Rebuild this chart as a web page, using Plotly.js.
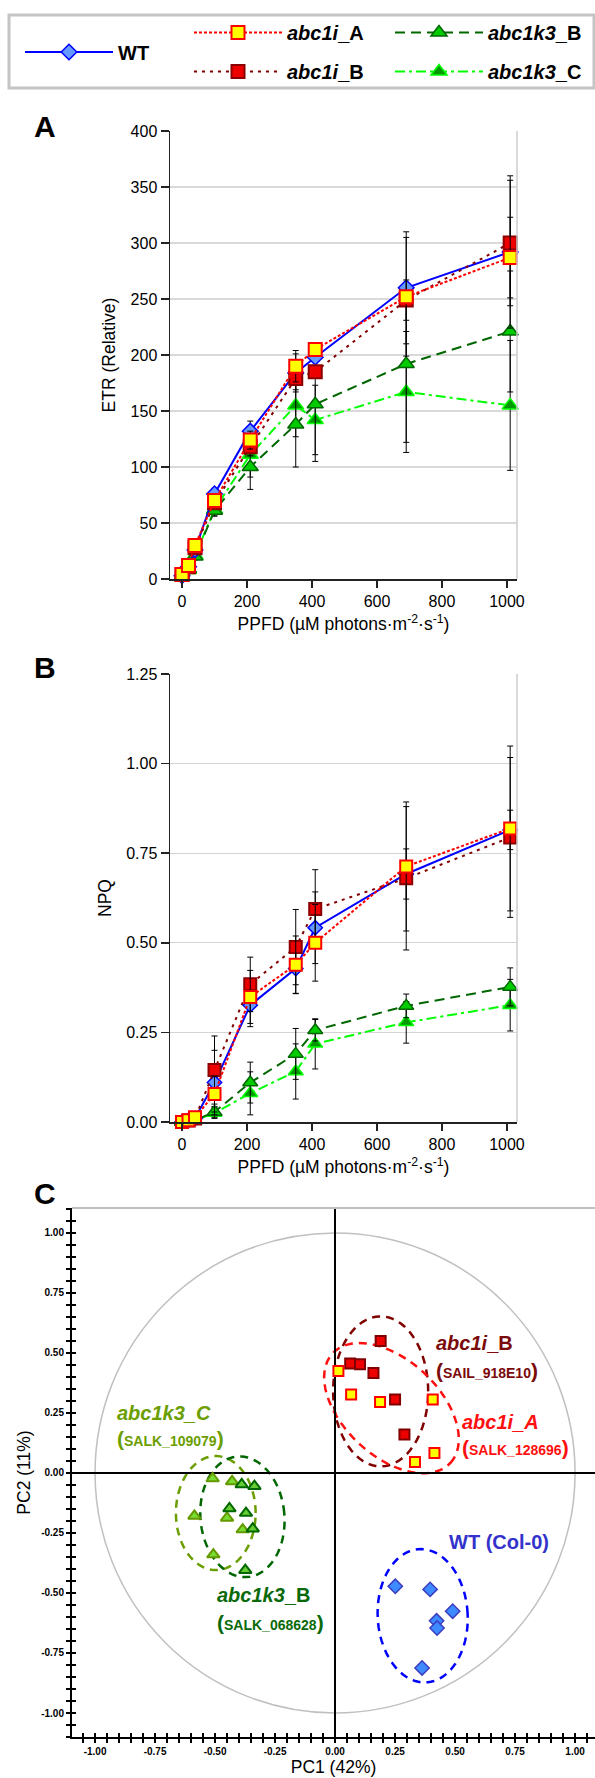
<!DOCTYPE html>
<html><head><meta charset="utf-8">
<script src="https://cdn.plot.ly/plotly-3.0.1.min.js"></script>
<style>html,body{margin:0;padding:0;background:#fff}#chart{width:595px;height:1778px}</style>
</head><body><div id="chart"></div>
<script>
// ---------- DATA ----------
const ppfd = [0, 20, 40, 100, 210, 350, 410, 690, 1010];
// Panel A: ETR (relative)
const etrWT   = [3, 11, 26, 76, 132, 184, 198, 260, 292];
const etrI_A  = [4, 12, 30, 70, 124, 190, 205, 252, 287];
const etrI_B  = [4, 11, 28, 68, 118, 179, 185, 249, 300];
const etrK3_B = [2, 9, 20, 61, 100, 138, 156, 192, 221];
const etrK3_C = [2, 8, 21, 62, 111, 155, 142, 167, 155];
const etrWT_err   = [1, 2, 4, 5, 9, 17, 8, 50, 68];
const etrI_A_err  = [1, 2, 4, 5, 8, 14, 5, 53, 36];
const etrI_B_err  = [1, 2, 4, 5, 8, 10, 5, 18, 56];
const etrK3_B_err = [1, 2, 3, 5, 20, 38, 51, 70, 54];
const etrK3_C_err = [1, 2, 3, 5, 20, 28, 31, 54, 58];
// Panel B: NPQ
const npqWT   = [0, 0.005, 0.01, 0.11, 0.326, 0.428, 0.542, 0.692, 0.815];
const npqI_A  = [0, 0.005, 0.013, 0.078, 0.349, 0.439, 0.5, 0.713, 0.819];
const npqI_B  = [0, 0.004, 0.01, 0.145, 0.384, 0.488, 0.594, 0.68, 0.794];
const npqK3_B = [0, 0.002, 0.005, 0.028, 0.11, 0.19, 0.256, 0.324, 0.377];
const npqK3_C = [0, 0.002, 0.005, 0.025, 0.08, 0.141, 0.218, 0.278, 0.326];
const npqWT_err   = [0.003, 0.004, 0.005, 0.09, 0.06, 0.07, 0.1, 0.07, 0.055];
const npqI_A_err  = [0.003, 0.004, 0.005, 0.05, 0.074, 0.08, 0.107, 0.18, 0.23];
const npqI_B_err  = [0.003, 0.004, 0.005, 0.095, 0.076, 0.105, 0.11, 0.2, 0.223];
const npqK3_B_err = [0.003, 0.003, 0.004, 0.015, 0.057, 0.071, 0.03, 0.033, 0.053];
const npqK3_C_err = [0.003, 0.003, 0.004, 0.015, 0.06, 0.077, 0.07, 0.058, 0.072];
// Panel C: PCA scores
const pcaWT_x   = [0.251, 0.396, 0.49, 0.423, 0.425, 0.3625];
const pcaWT_y   = [-0.472, -0.485, -0.576, -0.616, -0.646, -0.8125];
const pcaI_A_x  = [0.014, 0.067, 0.1875, 0.407, 0.414, 0.333];
const pcaI_A_y  = [0.425, 0.327, 0.296, 0.306, 0.083, 0.046];
const pcaI_B_x  = [0.19, 0.063, 0.104, 0.16, 0.25, 0.289];
const pcaI_B_y  = [0.55, 0.456, 0.453, 0.417, 0.306, 0.16];
const pcaK3_C_x = [-0.51, -0.429, -0.586, -0.45, -0.385, -0.507];
const pcaK3_C_y = [-0.023, -0.035, -0.179, -0.1875, -0.236, -0.34];
const pcaK3_B_x = [-0.389, -0.336, -0.44, -0.371, -0.343, -0.374];
const pcaK3_B_y = [-0.048, -0.055, -0.148, -0.167, -0.232, -0.405];
// group ellipses: centre x, centre y, radius x, radius y, rotation (deg)
const ellNames = ['abc1i_B', 'abc1i_A', 'abc1k3_C', 'abc1k3_B', 'WT'];
const ellCx  = [0.19, 0.235, -0.497, -0.386, 0.365];
const ellCy  = [0.34, 0.27, -0.167, -0.1825, -0.595];
const ellRx  = [0.198, 0.335, 0.166, 0.175, 0.1875];
const ellRy  = [0.3125, 0.2, 0.2375, 0.252, 0.278];
const ellRot = [0, -43, 0, 5, 3];
const pcTicks = [-1, -0.75, -0.5, -0.25, 0, 0.25, 0.5, 0.75, 1];
const pcTickText = ['-1.00', '-0.75', '-0.50', '-0.25', '0.00', '0.25', '0.50', '0.75', '1.00'];
const npqTicks = [0, 0.25, 0.5, 0.75, 1.0, 1.25];
const npqTickText = ['0.00', '0.25', '0.50', '0.75', '1.00', '1.25'];

// ---------- GEOMETRY HELPERS ----------
const W = 595, H = 1778;
const px = v => v / W;
const py = v => 1 - v / H;
const FONT = 'Arial, "Liberation Sans", sans-serif';

// ---------- STYLES ----------
const ST = {
  WT:       {line: {color: '#0000ff', width: 2, dash: 'solid'}, marker: {symbol: 'diamond', size: 12, color: '#6699ff', line: {color: '#0000ff', width: 1.5}}},
  abc1i_A:  {line: {color: '#ff0000', width: 2, dash: '3px,2px'}, marker: {symbol: 'square', size: 13, color: '#ffff00', line: {color: '#ff0000', width: 2}}},
  abc1i_B:  {line: {color: '#800000', width: 2, dash: '3px,5px'}, marker: {symbol: 'square', size: 13, color: '#ee0000', line: {color: '#8b0000', width: 2}}},
  abc1k3_B: {line: {color: '#006600', width: 2, dash: '10px,6px'}, marker: {symbol: 'triangle-up', size: 14, color: '#00cc00', line: {color: '#006600', width: 1.5}}},
  abc1k3_C: {line: {color: '#00ff00', width: 2, dash: '10px,4px,3px,4px'}, marker: {symbol: 'triangle-up', size: 14, color: '#009900', line: {color: '#00ff00', width: 1.5}}}
};
const legendOf = {WT: 'legend', abc1i_A: 'legend2', abc1i_B: 'legend2', abc1k3_B: 'legend3', abc1k3_C: 'legend3'};
const rankOf = {WT: 1, abc1i_A: 1, abc1i_B: 2, abc1k3_B: 1, abc1k3_C: 2};
const legName = {WT: 'WT', abc1i_A: '<i>abc1i</i>_A', abc1i_B: '<i>abc1i</i>_B', abc1k3_B: '<i>abc1k3</i>_B', abc1k3_C: '<i>abc1k3</i>_C'};

const order = ['abc1k3_C', 'abc1k3_B', 'WT', 'abc1i_B', 'abc1i_A'];
const etr = {WT: [etrWT, etrWT_err], abc1i_A: [etrI_A, etrI_A_err], abc1i_B: [etrI_B, etrI_B_err], abc1k3_B: [etrK3_B, etrK3_B_err], abc1k3_C: [etrK3_C, etrK3_C_err]};
const npq = {WT: [npqWT, npqWT_err], abc1i_A: [npqI_A, npqI_A_err], abc1i_B: [npqI_B, npqI_B_err], abc1k3_B: [npqK3_B, npqK3_B_err], abc1k3_C: [npqK3_C, npqK3_C_err]};

const traces = [];
order.forEach(n => {
  traces.push({
    type: 'scatter', mode: 'lines+markers', name: legName[n], x: ppfd, y: etr[n][0],
    error_y: {type: 'data', array: etr[n][1], visible: true, color: '#000', thickness: 1, width: 3},
    line: ST[n].line, marker: ST[n].marker, xaxis: 'x', yaxis: 'y', cliponaxis: false,
    legend: legendOf[n], legendrank: rankOf[n], legendgroup: n, showlegend: true, hoverinfo: 'skip'
  });
});
order.forEach(n => {
  traces.push({
    type: 'scatter', mode: 'lines+markers', name: legName[n], x: ppfd, y: npq[n][0],
    error_y: {type: 'data', array: npq[n][1], visible: true, color: '#000', thickness: 1, width: 3},
    line: ST[n].line, marker: Object.assign({}, ST[n].marker, {size: ST[n].marker.size - 1}), xaxis: 'x2', yaxis: 'y2', cliponaxis: false,
    showlegend: false, hoverinfo: 'skip'
  });
});
// PCA scatter
const pcaSets = [
  [pcaK3_C_x, pcaK3_C_y, {symbol: 'triangle-up', size: 11, color: '#77dd33', line: {color: '#669900', width: 2}}],
  [pcaK3_B_x, pcaK3_B_y, {symbol: 'triangle-up', size: 11, color: '#66cc33', line: {color: '#006600', width: 2}}],
  [pcaI_B_x, pcaI_B_y, {symbol: 'square', size: 10, color: '#ee0000', line: {color: '#800000', width: 2}}],
  [pcaI_A_x, pcaI_A_y, {symbol: 'square', size: 10, color: '#ffff00', line: {color: '#ff0000', width: 2}}],
  [pcaWT_x, pcaWT_y, {symbol: 'diamond', size: 11, color: '#3d8bff', line: {color: '#3c3cc0', width: 1.5}}]
];
pcaSets.forEach(s => traces.push({type: 'scatter', mode: 'markers', x: s[0], y: s[1], marker: s[2], xaxis: 'x3', yaxis: 'y3', showlegend: false, cliponaxis: false, hoverinfo: 'skip'}));
// empty trace to host the overlay tick axes
traces.push({type: 'scatter', mode: 'markers', x: [], y: [], xaxis: 'x4', yaxis: 'y4', showlegend: false, hoverinfo: 'skip'});

// ---------- SHAPES ----------
function ellipsePath(cx, cy, rx, ry, rotDeg) {
  const t = rotDeg * Math.PI / 180;
  let d = '';
  for (let i = 0; i <= 90; i++) {
    const a = i / 90 * 2 * Math.PI;
    const ex = rx * Math.cos(a), ey = ry * Math.sin(a);
    const x = cx + ex * Math.cos(t) - ey * Math.sin(t);
    const y = cy + ex * Math.sin(t) + ey * Math.cos(t);
    d += (i ? 'L' : 'M') + x.toFixed(4) + ',' + y.toFixed(4);
  }
  return d + 'Z';
}
const ellColors = {abc1i_B: '#800000', abc1i_A: '#ff1010', abc1k3_C: '#6b9e00', abc1k3_B: '#006600', WT: '#0000ff'};
const shapes = [
  // legend frame
  {type: 'rect', xref: 'paper', yref: 'paper', x0: px(9), x1: px(594), y0: py(88), y1: py(15), line: {color: '#c4c4c4', width: 3}},
  // right frame lines of A and B
  {type: 'line', xref: 'x domain', yref: 'y domain', x0: 1, x1: 1, y0: 0, y1: 1, line: {color: '#cccccc', width: 1.5}},
  {type: 'line', xref: 'x2 domain', yref: 'y2 domain', x0: 1, x1: 1, y0: 0, y1: 1, line: {color: '#cccccc', width: 1.5}},
  // top frame of C
  {type: 'line', xref: 'x3 domain', yref: 'y3 domain', x0: 0, x1: 1, y0: 1, y1: 1, line: {color: '#c0c0c0', width: 2}},
  // correlation circle
  {type: 'circle', xref: 'x3', yref: 'y3', x0: -1, x1: 1, y0: -1, y1: 1, line: {color: '#c0c0c0', width: 1.5}, layer: 'below'}
];
ellNames.forEach((n, i) => shapes.push({
  type: 'path', xref: 'x3', yref: 'y3', path: ellipsePath(ellCx[i], ellCy[i], ellRx[i], ellRy[i], ellRot[i]),
  line: {color: ellColors[n], width: 2.5, dash: '8px,6px'}, layer: 'below'
}));

// ---------- ANNOTATIONS ----------
const ann = [];
[['A', 127], ['B', 667], ['C', 1193]].forEach(a => ann.push({
  xref: 'paper', yref: 'paper', x: px(45), y: py(a[1]), text: '<b>' + a[0] + '</b>', showarrow: false,
  font: {family: FONT, size: 30, color: '#000'}, xanchor: 'center', yanchor: 'middle'
}));
const big = s => '<span style="font-size:21px">' + s + '</span>';
const lab = (x, y, text, color, size) => ann.push({
  xref: 'x3', yref: 'y3', x: x, y: y, text: text, showarrow: false, xanchor: 'left', yanchor: 'middle',
  font: {family: FONT, size: size, color: color, weight: 700}
});
lab(0.414, 0.54, '<i>abc1i</i>_B', '#7b0a0a', 20);
lab(0.414, 0.428, big('(') + 'SAIL_918E10' + big(')'), '#7b0a0a', 14);
lab(0.521, 0.2125, '<i>abc1i_A</i>', '#ff1010', 20);
lab(0.521, 0.108, big('(') + 'SALK_128696' + big(')'), '#ff1010', 14);
lab(-0.915, 0.249, '<i>abc1k3_C</i>', '#6b9e00', 20);
lab(-0.915, 0.145, big('(') + 'SALK_109079' + big(')'), '#6b9e00', 14);
lab(-0.499, -0.509, '<i>abc1k3</i>_B', '#0a6a0a', 20);
lab(-0.499, -0.621, big('(') + 'SALK_068628' + big(')'), '#0a6a0a', 14);
lab(0.468, -0.2875, 'WT (Col-0)', '#3333cc', 20);

// ---------- LAYOUT ----------
const tickF = {family: FONT, size: 16, color: '#000'};
const titleF = {family: FONT, size: 17.5, color: '#000'};
const ppfdTitle = 'PPFD (µM photons·m<sup>-2</sup>·s<sup>-1</sup>)';
const xCommon = {range: [-37, 1031], tickvals: [0, 200, 400, 600, 800, 1000], ticks: 'outside', ticklen: 7, tickwidth: 1.5, tickcolor: '#222',
  showline: true, linecolor: '#222', linewidth: 1.5, showgrid: false, zeroline: false, tickfont: tickF, automargin: false,
  title: {text: ppfdTitle, font: titleF, standoff: 9}};
const yCommon = {ticks: 'outside', ticklen: 8, tickwidth: 1.5, tickcolor: '#222', showline: true, linecolor: '#222', linewidth: 1.5,
  showgrid: true, gridcolor: '#d9d9d9', gridwidth: 1.5, zeroline: false, tickfont: tickF, automargin: false};
const pcTickF = {family: FONT, size: 10, color: '#000', weight: 700};
const legBase = {bgcolor: 'rgba(0,0,0,0)', borderwidth: 0, font: {family: FONT, size: 20, color: '#000', weight: 700},
  itemwidth: 88, xanchor: 'left', yanchor: 'middle', traceorder: 'grouped', tracegroupgap: 10, itemclick: false, itemdoubleclick: false};

const layout = {
  width: W, height: H, margin: {l: 0, r: 0, t: 0, b: 0}, paper_bgcolor: '#fff', plot_bgcolor: '#fff',
  font: {family: FONT, color: '#000'},
  showlegend: true,
  legend: Object.assign({}, legBase, {x: px(20), y: py(52)}),
  legend2: Object.assign({}, legBase, {x: px(189), y: py(52)}),
  legend3: Object.assign({}, legBase, {x: px(390), y: py(52)}),
  xaxis: Object.assign({}, xCommon, {domain: [px(170), px(517)], anchor: 'y'}),
  yaxis: Object.assign({}, yCommon, {domain: [py(579), py(131)], anchor: 'x', range: [0, 400], dtick: 50, tick0: 0,
    title: {text: 'ETR (Relative)', font: titleF, standoff: 10}}),
  xaxis2: Object.assign({}, xCommon, {domain: [px(170), px(517)], anchor: 'y2'}),
  yaxis2: Object.assign({}, yCommon, {domain: [py(1122), py(674)], anchor: 'x2', range: [0, 1.25], tickvals: npqTicks, ticktext: npqTickText,
    gridcolor: '#d4d4d4', gridwidth: 1, title: {text: 'NPQ', font: titleF, standoff: 10}}),
  xaxis3: {domain: [px(72), 1], anchor: 'y3', range: [-1.096, 1.083], tickvals: pcTicks, ticktext: pcTickText, ticks: 'outside', ticklen: 4, tickwidth: 1.5,
    tickcolor: '#000', minor: {tickmode: 'linear', tick0: 0, dtick: 0.05, ticks: 'outside', ticklen: 4, tickwidth: 1.5, tickcolor: '#000'},
    showline: true, linecolor: '#000', linewidth: 2, showgrid: false, zeroline: true, zerolinecolor: '#000', zerolinewidth: 1.5,
    tickfont: pcTickF, automargin: false, title: {text: 'PC1 (42%)', font: titleF, standoff: 5}},
  yaxis3: {domain: [py(1737), py(1208)], anchor: 'x3', range: [-1.1, 1.104], tickvals: pcTicks, ticktext: pcTickText, ticks: 'outside', ticklen: 4, tickwidth: 1.5,
    tickcolor: '#000', minor: {tickmode: 'linear', tick0: 0, dtick: 0.05, ticks: 'outside', ticklen: 4, tickwidth: 1.5, tickcolor: '#000'},
    showline: true, linecolor: '#000', linewidth: 2, showgrid: false, zeroline: true, zerolinecolor: '#000', zerolinewidth: 1.5,
    tickfont: pcTickF, automargin: false, title: {text: 'PC2 (11%)', font: titleF, standoff: 6}},
  xaxis4: {overlaying: 'x3', anchor: 'y4', range: [-1.096, 1.083], tickmode: 'linear', tick0: 0, dtick: 0.05, ticks: 'inside', ticklen: 4, tickwidth: 1.5,
    tickcolor: '#000', showticklabels: false, showline: false, showgrid: false, zeroline: false, side: 'bottom'},
  yaxis4: {overlaying: 'y3', anchor: 'x4', range: [-1.1, 1.104], tickmode: 'linear', tick0: 0, dtick: 0.05, ticks: 'inside', ticklen: 4, tickwidth: 1.5,
    tickcolor: '#000', showticklabels: false, showline: false, showgrid: false, zeroline: false, side: 'left'},
  shapes: shapes,
  annotations: ann
};

Plotly.newPlot('chart', traces, layout, {staticPlot: true, displayModeBar: false});
</script>
</body></html>
